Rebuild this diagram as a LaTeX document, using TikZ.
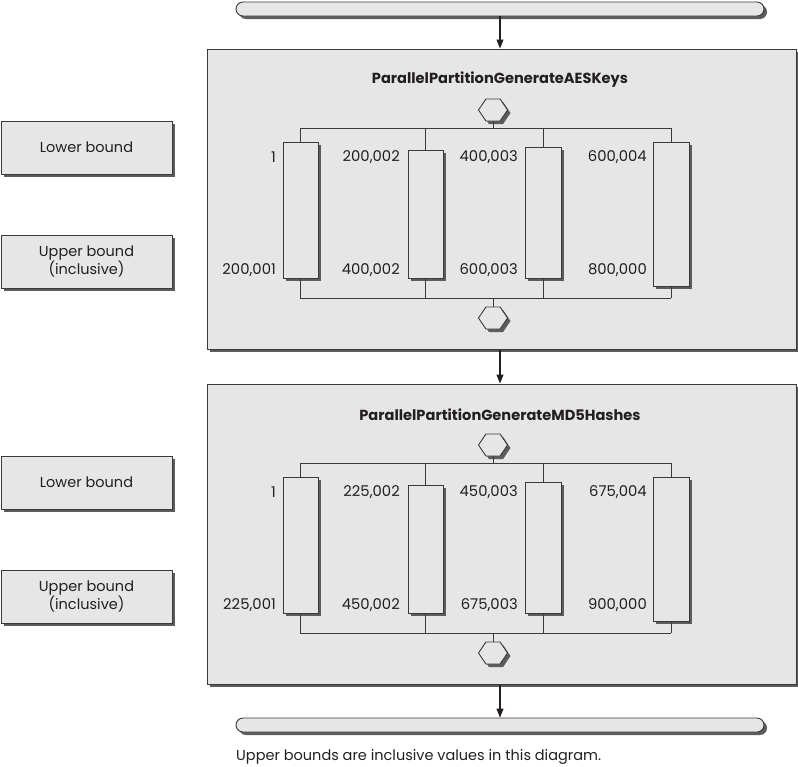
\documentclass[tikz,border=0pt]{standalone}
\usepackage{fontspec}
\setmainfont{Poppins}
\usetikzlibrary{shapes.symbols,shadows,arrows.meta}
\definecolor{boxfill}{HTML}{E6E6E7}
\definecolor{edge}{HTML}{3A3A3A}
\definecolor{shade}{HTML}{5C5C5C}
\definecolor{ink}{HTML}{231F20}
\tikzset{
  shadowed/.style={drop shadow={shadow xshift=3pt,shadow yshift=-3pt,fill=shade,opacity=1}},
  gbox/.style={draw=edge,fill=boxfill,line width=0.9pt,shadowed,inner sep=0pt},
  bar/.style={gbox,rounded corners=7pt,minimum width=528pt,minimum height=14pt},
  panel/.style={gbox,line width=1pt,minimum width=589pt,minimum height=300pt},
  sidebox/.style={gbox,minimum width=171pt,minimum height=53pt,align=center,font=\fontsize{14.5}{17}\selectfont,text=ink},
  worker/.style={gbox,minimum width=35pt},
  hexa/.style={gbox,signal,signal to=east and west,signal pointer angle=112,minimum width=29pt,minimum height=22pt},
  num/.style={anchor=east,inner sep=0pt,font=\fontsize{14.8}{17}\selectfont,text=ink},
  ttl/.style={font=\bfseries\fontsize{14.6}{17}\selectfont,text=ink},
  wire/.style={draw=edge,line width=0.8pt},
  flow/.style={draw=ink,line width=1.1pt,-{Triangle[length=9pt,width=7pt]}},
}
\newcommand{\mypanel}[3]{%
  \node[panel] (P#1) at (501.5,199+#2) {};
  \node[ttl] (T#1) at (500,80+#2) {#3};
  \node[sidebox] (L#1) at (86.5,147.5+#2) {Lower bound};
  \node[sidebox] (U#1) at (86.5,261.5+#2) {Upper bound\\(inclusive)};
  \node[hexa] (HT#1) at (493,110+#2) {};
  \node[hexa] (HB#1) at (493,318+#2) {};
  \node[worker,minimum height=136pt] (W#1a) at (300.5,210+#2) {};
  \node[worker,minimum height=128pt] (W#1b) at (425.5,214+#2) {};
  \node[worker,minimum height=131pt,minimum width=36pt] (W#1c) at (543,212.5+#2) {};
  \node[worker,minimum height=144pt,minimum width=36pt] (W#1d) at (671,214+#2) {};
  \coordinate (F#1) at (300,128+#2);
  \coordinate (G#1) at (671,128+#2);
  \coordinate (J#1) at (300,298+#2);
  \coordinate (K#1) at (671,298+#2);
  \draw[wire] (F#1) -- (G#1);
  \draw[wire] (J#1) -- (K#1);
  \draw[wire] (HT#1.south) -- (HT#1.south |- F#1);
  \draw[wire] (HB#1.north) -- (HB#1.north |- J#1);
  \foreach \w in {a,b,c,d}{
    \draw[wire] (W#1\w.north) -- (W#1\w.north |- F#1);
    \draw[wire] (W#1\w.south) -- (W#1\w.south |- J#1);
  }
}
\newcommand{\numrow}[6]{%
  \node[num] (#1a) at (276,#2) {#3};
  \node[num] (#1b) at (400,#2) {#4};
  \node[num] (#1c) at (518,#2) {#5};
  \node[num] (#1d) at (647,#2) {#6};
}
\begin{document}
\begin{tikzpicture}[x=1pt,y=-1pt]
\useasboundingbox[fill=white] (0,0) rectangle (798,766);

\node[bar] (start) at (500,9) {};
\node[bar] (stop) at (500,725) {};

\mypanel{1}{0}{ParallelPartitionGenerateAESKeys}
\numrow{N1}{157}{1}{200,002}{400,003}{600,004}
\numrow{M1}{270}{200,001}{400,002}{600,003}{800,000}

\mypanel{2}{335}{ParallelPartitionGenerateMD5Hashes}
\numrow{N2}{492}{1}{225,002}{450,003}{675,004}
\numrow{M2}{605}{225,001}{450,002}{675,003}{900,000}

\draw[flow] (start.south) -- (start.south |- P1.north);
\draw[flow] (start.south |- P1.south) -- (start.south |- P2.north);
\draw[flow] (start.south |- P2.south) -- (stop.north);

\node[anchor=west,inner sep=0pt,font=\fontsize{14.5}{17}\selectfont,text=ink] (cap) at (236,757) {Upper bounds are inclusive values in this diagram.};
\end{tikzpicture}
\end{document}
